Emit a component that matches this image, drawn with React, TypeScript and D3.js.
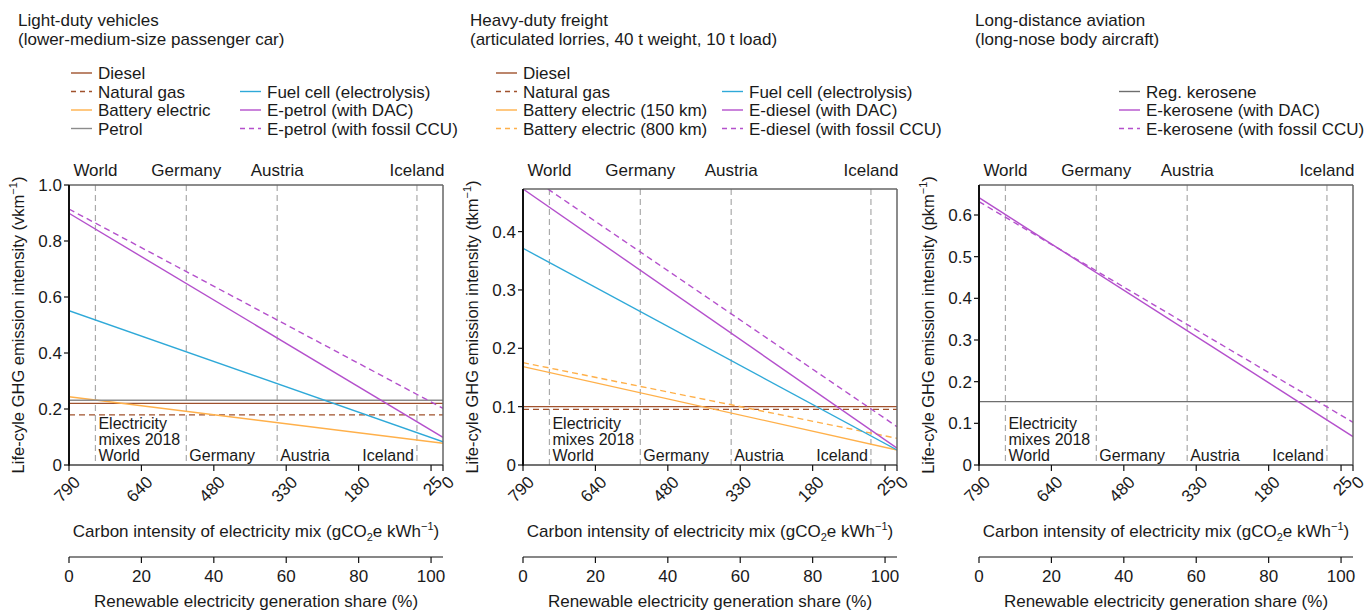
import React from 'react';
import * as d3 from 'd3';

// shared x-axis data (renewable share %, carbon intensity labels)
const shareTicks = [0, 20, 40, 60, 80, 100];
const shareMax = 103.3;
const carbonTickShares = [0, 20, 40, 60, 80, 100, 103.3];
const carbonTickLabels = ['790', '640', '480', '330', '180', '25', '0'];
const countries = ['World', 'Germany', 'Austria', 'Iceland'];
const countryShares = [7.3, 32.4, 57.5, 96.1];

// light-duty vehicles
const ldvNames = ['Diesel', 'Natural gas', 'Battery electric', 'Petrol', 'Fuel cell (electrolysis)', 'E-petrol (with DAC)', 'E-petrol (with fossil CCU)'];
const ldvStart = [0.22, 0.179, 0.244, 0.231, 0.551, 0.899, 0.914];
const ldvEnd = [0.22, 0.179, 0.0775, 0.231, 0.083, 0.099, 0.2025];
const ldvTicks = [0, 0.2, 0.4, 0.6, 0.8, 1.0];

// heavy-duty freight
const hdfNames = ['Diesel', 'Natural gas', 'Battery electric (150 km)', 'Battery electric (800 km)', 'Fuel cell (electrolysis)', 'E-diesel (with DAC)', 'E-diesel (with fossil CCU)'];
const hdfStart = [0.1, 0.0954, 0.1686, 0.1754, 0.3714, 0.473, 0.502];
const hdfEnd = [0.1, 0.0954, 0.0257, 0.0457, 0.0257, 0.029, 0.0657];
const hdfTicks = [0, 0.1, 0.2, 0.3, 0.4];

// long-distance aviation
const aviNames = ['Reg. kerosene', 'E-kerosene (with DAC)', 'E-kerosene (with fossil CCU)'];
const aviStart = [0.152, 0.6415, 0.632];
const aviEnd = [0.152, 0.068, 0.1025];
const aviTicks = [0, 0.1, 0.2, 0.3, 0.4, 0.5, 0.6];

const BROWN = '#a0522d';
const ORANGE = '#ffb04a';
const GREY = '#8c8c8c';
const BLUE = '#2fa9d8';
const PURPLE = '#b450cc';
const FONT = 'Liberation Sans, Arial, Helvetica, sans-serif';
const TXT = '#1a1a1a';

const panels = [
  {
    key: 'ldv', left: 69, top: 185, yMax: 1.0, unit: 'vkm', ticks: ldvTicks, fmt: (d) => (d === 0 ? '0' : d.toFixed(1)),
    title: ['Light-duty vehicles', '(lower-medium-size passenger car)'], titleX: 18,
    names: ldvNames, start: ldvStart, end: ldvEnd,
    colors: [BROWN, BROWN, ORANGE, GREY, BLUE, PURPLE, PURPLE],
    dashed: [false, true, false, false, false, false, true],
    legend: [[71, 0], [71, 1], [71, 2], [71, 3], [240, 1], [240, 2], [240, 3]],
  },
  {
    key: 'hdf', left: 523, top: 189, yMax: 0.473, unit: 'tkm', ticks: hdfTicks, fmt: (d) => (d === 0 ? '0' : d.toFixed(1)),
    title: ['Heavy-duty freight', '(articulated lorries, 40 t weight, 10 t load)'], titleX: 470,
    names: hdfNames, start: hdfStart, end: hdfEnd,
    colors: [BROWN, BROWN, ORANGE, ORANGE, BLUE, PURPLE, PURPLE],
    dashed: [false, true, false, true, false, false, true],
    legend: [[496, 0], [496, 1], [496, 2], [496, 3], [722, 1], [722, 2], [722, 3]],
  },
  {
    key: 'avi', left: 979, top: 185, yMax: 0.672, unit: 'pkm', ticks: aviTicks, fmt: (d) => (d === 0 ? '0' : d.toFixed(1)),
    title: ['Long-distance aviation', '(long-nose body aircraft)'], titleX: 975,
    names: aviNames, start: aviStart, end: aviEnd,
    colors: ['#6e6e6e', PURPLE, PURPLE],
    dashed: [false, false, true],
    legend: [[1119, 1], [1119, 2], [1119, 3]],
  },
];

const legendRows = [73, 91.5, 110, 128.5];
const W = 374;
const BOTTOM = 465;
const FS = 17; // titles, legend, axis titles
const FT = 16; // ticks and in-plot labels

function Panel({ p }) {
  const x = d3.scaleLinear().domain([0, shareMax]).range([p.left, p.left + W]);
  const y = d3.scaleLinear().domain([0, p.yMax]).range([BOTTOM, p.top]);
  const line = d3.line().x((d) => x(d[0])).y((d) => y(d[1]));
  const clipId = 'clip-' + p.key;
  const right = p.left + W;
  const cy = (BOTTOM + p.top) / 2;
  return (
    <g fontFamily={FONT} fill={TXT}>
      <text x={p.titleX} y={26} fontSize={FS}>{p.title[0]}</text>
      <text x={p.titleX} y={45} fontSize={FS}>{p.title[1]}</text>

      {p.names.map((n, i) => {
        const [lx, row] = p.legend[i];
        const ly = legendRows[row];
        return (
          <g key={n}>
            <line x1={lx} x2={lx + 21} y1={ly} y2={ly} stroke={p.colors[i]} strokeWidth={1.4}
              strokeDasharray={p.dashed[i] ? '5,4' : null} />
            <text x={lx + 27} y={ly + 6} fontSize={FS}>{n}</text>
          </g>
        );
      })}

      <defs>
        <clipPath id={clipId}>
          <rect x={p.left} y={p.top} width={W} height={BOTTOM - p.top} />
        </clipPath>
      </defs>

      {countryShares.map((s, i) => (
        <g key={countries[i]}>
          <line x1={x(s)} x2={x(s)} y1={p.top} y2={BOTTOM} stroke="#aaa" strokeWidth={1.2} strokeDasharray="6,4" />
          <text x={x(s)} y={176} fontSize={FS} textAnchor="middle">{countries[i]}</text>
          <text x={i === 3 ? x(s) - 3 : x(s) + 3} y={461} fontSize={FT} textAnchor={i === 3 ? 'end' : 'start'}>{countries[i]}</text>
        </g>
      ))}
      <text x={x(countryShares[0]) + 3} y={429} fontSize={FT}>Electricity</text>
      <text x={x(countryShares[0]) + 3} y={445} fontSize={FT}>mixes 2018</text>

      <g clipPath={`url(#${clipId})`}>
        {p.names.map((n, i) => (
          <path key={n} d={line([[0, p.start[i]], [shareMax, p.end[i]]])} fill="none" stroke={p.colors[i]}
            strokeWidth={1.4} strokeDasharray={p.dashed[i] ? '6,4' : null} />
        ))}
      </g>

      {/* box */}
      <line x1={p.left} x2={right} y1={p.top} y2={p.top} stroke="#666" strokeWidth={1.5} />
      <line x1={right} x2={right} y1={p.top} y2={BOTTOM} stroke="#666" strokeWidth={1.5} />
      <line x1={p.left} x2={right} y1={BOTTOM} y2={BOTTOM} stroke="#444" strokeWidth={1.5} />
      <line x1={p.left} x2={p.left} y1={p.top} y2={BOTTOM + 0.75} stroke="#111" strokeWidth={2} />

      {/* y axis */}
      {p.ticks.map((t) => (
        <g key={t}>
          <line x1={p.left - 5} x2={p.left} y1={y(t)} y2={y(t)} stroke="#111" strokeWidth={1.2} />
          <text x={p.left - 7} y={y(t) + 6} fontSize={FT + 1} textAnchor="end">{p.fmt(t)}</text>
        </g>
      ))}
      <text transform={`translate(${p.left - 45},${cy}) rotate(-90)`} fontSize={16.5} textAnchor="middle">
        Life-cyle GHG emission intensity ({p.unit}
        <tspan dy={-7} fontSize={11}>−1</tspan>
        <tspan dy={7}>)</tspan>
      </text>

      {/* carbon intensity axis */}
      {carbonTickShares.map((s, i) => (
        <g key={'c' + i}>
          <line x1={x(s)} x2={x(s)} y1={BOTTOM} y2={BOTTOM + 6} stroke="#111" strokeWidth={1.2} />
          <text transform={`translate(${x(s) + 8},${BOTTOM + 14}) rotate(-45)`} fontSize={FT + 1} textAnchor="end" dy="0.35em">
            {carbonTickLabels[i]}
          </text>
        </g>
      ))}
      <text x={(p.left + right) / 2} y={537} fontSize={FS} textAnchor="middle">
        Carbon intensity of electricity mix (gCO
        <tspan dy={4} fontSize={11}>2</tspan>
        <tspan dy={-4}>e kWh</tspan>
        <tspan dy={-7} fontSize={11}>−1</tspan>
        <tspan dy={7}>)</tspan>
      </text>

      {/* renewable share axis */}
      <line x1={p.left} x2={right} y1={557} y2={557} stroke="#111" strokeWidth={1.2} />
      {shareTicks.map((s) => (
        <g key={'s' + s}>
          <line x1={x(s)} x2={x(s)} y1={557} y2={563} stroke="#111" strokeWidth={1.2} />
          <text x={x(s)} y={582} fontSize={FT + 1} textAnchor="middle">{s}</text>
        </g>
      ))}
      <text x={(p.left + right) / 2} y={607} fontSize={FS} textAnchor="middle">
        Renewable electricity generation share (%)
      </text>
    </g>
  );
}

export default function App() {
  return (
    <div style={{ position: 'absolute', left: 0, top: 0, background: '#fff' }}>
      <svg width={1370} height={611} style={{ display: 'block' }}>
        <rect width={1370} height={611} fill="#fff" />
        {panels.map((p) => (
          <Panel key={p.key} p={p} />
        ))}
      </svg>
    </div>
  );
}
